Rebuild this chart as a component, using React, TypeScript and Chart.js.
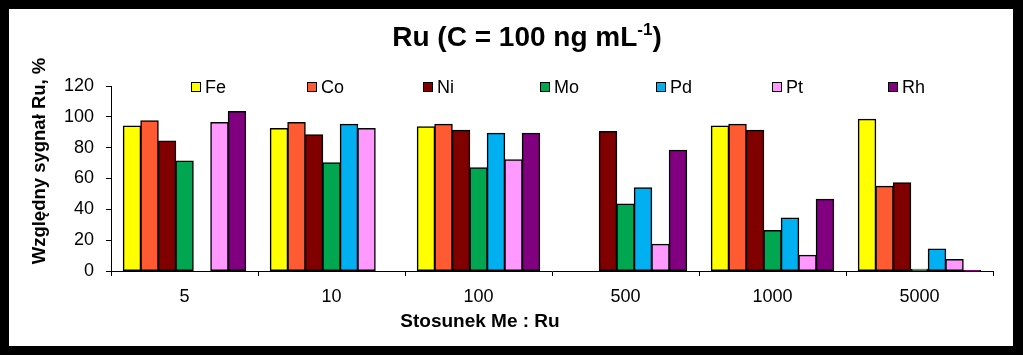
import React, { useEffect, useRef } from "react";
import { Chart, registerables } from "chart.js";

Chart.register(...registerables);

const categories = ["5", "10", "100", "500", "1000", "5000"];
const seriesNames = ["Fe", "Co", "Ni", "Mo", "Pd", "Pt", "Rh"];
const seriesColors = ["#FFFF00", "#FF5B33", "#800000", "#00A650", "#00B0F0", "#FF99FF", "#800080"];

const feValues = [94, 92.4, 93.5, null, 94.1, 98.5];
const coValues = [97.4, 96.3, 95.2, null, 95.2, 55];
const niValues = [84.3, 88.3, 91.3, 90.5, 91.3, 57.2];
const moValues = [71.3, 70.2, 67, 43.5, 26.3, 1.2];
const pdValues = [null, 95.2, 89.4, 54, 34.4, 14.3];
const ptValues = [96.3, 92.4, 72.2, 17.4, 10.2, 7.4];
const rhValues = [103.5, null, 89.4, 78.3, 46.5, 0.4];

const yTicks = [0, 20, 40, 60, 80, 100, 120];

const titleMain = "Ru (C = 100 ng mL";
const titleSup = "-1";
const titleEnd = ")";
const yTitle = "Względny sygnał Ru, %";
const xTitle = "Stosunek Me : Ru";

const FONT = "'Liberation Sans', Arial, sans-serif";

const decorPlugin = {
  id: "decor",
  afterDraw(chart: any) {
    const ctx = chart.ctx as CanvasRenderingContext2D;
    ctx.save();
    ctx.fillStyle = "#000";
    // Title with superscript
    const mainFont = `bold 28px ${FONT}`;
    const supFont = `bold 17px ${FONT}`;
    ctx.font = mainFont;
    const w1 = ctx.measureText(titleMain).width;
    const w3 = ctx.measureText(titleEnd).width;
    ctx.font = supFont;
    const w2 = ctx.measureText(titleSup).width;
    const total = w1 + w2 + w3;
    let x = 518 - total / 2;
    const base = 37;
    ctx.textBaseline = "alphabetic";
    ctx.textAlign = "left";
    ctx.font = mainFont;
    ctx.fillText(titleMain, x, base);
    x += w1;
    ctx.font = supFont;
    ctx.fillText(titleSup, x, base - 11);
    x += w2;
    ctx.font = mainFont;
    ctx.fillText(titleEnd, x, base);

    // Y title
    ctx.save();
    ctx.translate(31, 152);
    ctx.rotate(-Math.PI / 2);
    ctx.font = `bold 18.5px ${FONT}`;
    ctx.textAlign = "center";
    ctx.textBaseline = "middle";
    ctx.fillText(yTitle, 0, 0);
    ctx.restore();

    // X title
    ctx.font = `bold 19px ${FONT}`;
    ctx.textAlign = "center";
    ctx.textBaseline = "middle";
    ctx.fillText(xTitle, 471, 313);

    // Legend
    const ds = chart.data.datasets;
    const startX = 182;
    const step = 116.2;
    const cy = 78;
    ctx.font = `18px ${FONT}`;
    ctx.textAlign = "left";
    ctx.textBaseline = "middle";
    ds.forEach((d: any, i: number) => {
      const bx = Math.round(startX + i * step);
      ctx.fillStyle = d.backgroundColor;
      ctx.fillRect(bx, cy - 5, 10, 10);
      ctx.strokeStyle = "#000";
      ctx.lineWidth = 1;
      ctx.strokeRect(bx + 0.5, cy - 4.5, 9, 9);
      ctx.fillStyle = "#000";
      ctx.fillText(d.label, bx + 14, cy + 1);
    });
    ctx.restore();
  },
};

export default function App() {
  const ref = useRef<HTMLCanvasElement>(null);
  useEffect(() => {
    if (!ref.current) return;
    const all = [feValues, coValues, niValues, moValues, pdValues, ptValues, rhValues];
    const chart = new Chart(ref.current, {
      type: "bar",
      data: {
        labels: categories,
        datasets: seriesNames.map((n, i) => ({
          label: n,
          data: all[i] as any,
          backgroundColor: seriesColors[i],
          borderColor: "#000",
          borderWidth: 1.5,
          borderSkipped: false as any,
          inflateAmount: 0.5,
          categoryPercentage: 0.833,
          barPercentage: 1,
        })),
      },
      options: {
        responsive: false,
        animation: false,
        layout: { padding: { left: 0, right: 20, top: 77, bottom: 0 } },
        plugins: {
          legend: { display: false },
          title: { display: false },
          tooltip: { enabled: false },
        },
        scales: {
          x: {
            afterFit: (s: any) => {
              s.height = 75;
            },
            grid: { display: true, drawOnChartArea: false, tickLength: 5, color: "#000", offset: true },
            border: { display: true, color: "#000", width: 1 },
            ticks: { color: "#000", font: { family: FONT, size: 18 }, padding: 10 },
          },
          y: {
            min: 0,
            max: 120,
            afterFit: (s: any) => {
              s.width = 102;
            },
            afterBuildTicks: (s: any) => {
              s.ticks = yTicks.map((v) => ({ value: v }));
            },
            grid: { display: true, drawOnChartArea: false, tickLength: 5, color: "#000" },
            border: { display: true, color: "#000", width: 1 },
            ticks: { color: "#000", font: { family: FONT, size: 18 }, padding: 12 },
          },
        },
      },
      plugins: [decorPlugin],
    });
    return () => chart.destroy();
  }, []);

  return (
    <div style={{ position: "fixed", left: 0, top: 0, width: 1023, height: 355, background: "#000" }}>
      <div style={{ position: "absolute", left: 9, top: 9, width: 1004, height: 337, background: "#fff" }}>
        <canvas ref={ref} width={1004} height={337} style={{ display: "block", width: 1004, height: 337 }} />
      </div>
    </div>
  );
}
